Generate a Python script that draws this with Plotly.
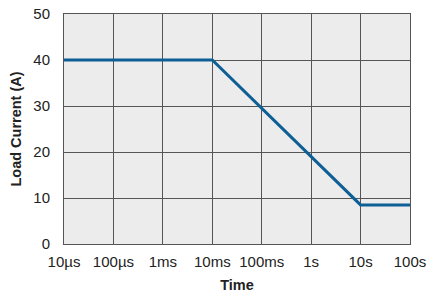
import plotly.graph_objects as go

time_s = [1e-5, 1e-2, 10, 100]
load_current = [40, 40, 8.5, 8.5]
tick_vals = [1e-5, 1e-4, 1e-3, 1e-2, 1e-1, 1, 10, 100]
tick_text = ["10µs", "100µs", "1ms", "10ms", "100ms", "1s", "10s", "100s"]
y_ticks = [0, 10, 20, 30, 40, 50]

fig = go.Figure()
fig.add_trace(go.Scatter(x=time_s, y=load_current, mode="lines",
                         line=dict(color="#0d5f96", width=3), showlegend=False))

fig.update_layout(
    width=428, height=297,
    margin=dict(l=64, r=18, t=14, b=53),
    paper_bgcolor="white", plot_bgcolor="#ececec",
    font=dict(family="Liberation Sans, Arial, sans-serif", size=15, color="#222"),
)
fig.update_xaxes(type="log", range=[-5, 2], tickvals=tick_vals, ticktext=tick_text,
                 automargin=False,
                 showgrid=True, gridcolor="#555", gridwidth=1,
                 showline=True, linecolor="#555", linewidth=1, mirror=True,
                 zeroline=False, ticks="", ticklabelstandoff=4,
                 title=dict(text="<b>Time</b>", font=dict(size=14.5), standoff=10))
fig.update_yaxes(range=[0, 50], tickvals=y_ticks, automargin=False,
                 showgrid=True, gridcolor="#555", gridwidth=1,
                 showline=True, linecolor="#555", linewidth=1, mirror=True,
                 zeroline=False, ticks="", ticklabelstandoff=10,
                 title=dict(text="<b>Load Current (A)</b>", font=dict(size=14.5), standoff=8))

fig.write_html("out.html", config={"displayModeBar": False},
               post_script="document.body.style.margin='0';document.body.style.overflow='hidden';")
